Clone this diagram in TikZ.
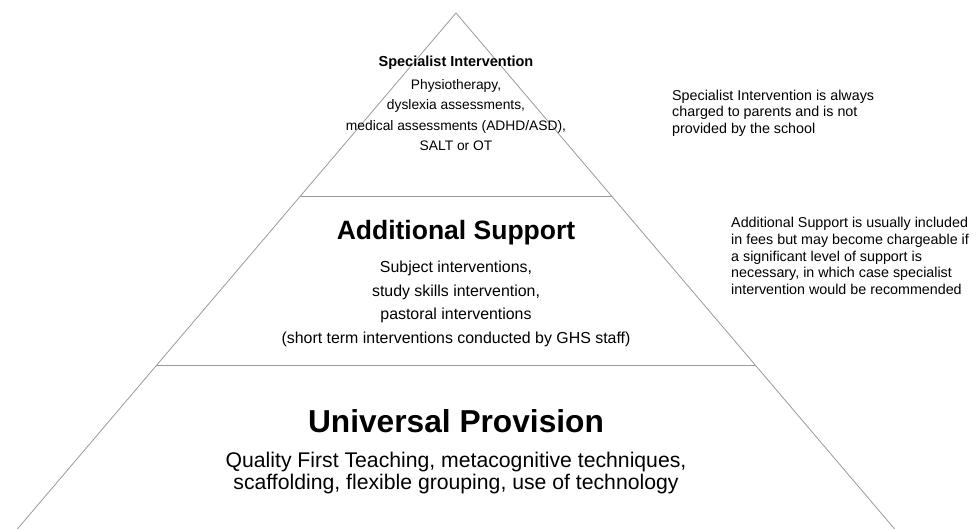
\documentclass[tikz,border=0pt]{standalone}
\usepackage{fontspec}
\setmainfont{Liberation Sans}

\begin{document}
\begin{tikzpicture}[x=1pt, y=-1pt,
  edge/.style={draw=black!40, line width=0.8pt},
  tier/.style={align=center, inner sep=0pt},
  note/.style={align=left, anchor=west, inner sep=0pt, font=\fontsize{14.3}{16.6}\selectfont}]

\useasboundingbox (0,0) rectangle (976,529) ;

\coordinate (apex) at (456,13) ;
\coordinate (baseL) at (17.4,529) ;
\coordinate (baseR) at (894.6,529) ;
\coordinate (topL) at (300.5,196) ;
\coordinate (topR) at (611.5,196) ;
\coordinate (midL) at (156.8,365) ;
\coordinate (midR) at (755.2,365) ;

\draw [edge] (apex) to (baseL) ;
\draw [edge] (apex) to (baseR) ;
\draw [edge] (topL) to (topR) ;
\draw [edge] (midL) to (midR) ;

\node [tier, font=\fontsize{14.5}{17}\selectfont\bfseries] (spectitle) at (456,63) {Specialist Intervention} ;
\node [tier, font=\fontsize{13.8}{20.4}\selectfont] (specbody) at (456,115) {Physiotherapy,\\dyslexia assessments,\\medical assessments (ADHD/ASD),\\SALT or OT} ;

\node [tier, font=\fontsize{26.5}{30}\selectfont\bfseries] (addtitle) at (456,233) {Additional Support} ;
\node [tier, font=\fontsize{15.9}{23.7}\selectfont] (addbody) at (456,304) {Subject interventions,\\study skills intervention,\\pastoral interventions\\(short term interventions conducted by GHS staff)} ;

\node [tier, font=\fontsize{31.7}{36}\selectfont\bfseries] (unititle) at (456,421) {Universal Provision} ;
\node [tier, font=\fontsize{21.2}{21.5}\selectfont] (unibody) at (456,473) {Quality First Teaching, metacognitive techniques,\\scaffolding, flexible grouping, use of technology} ;

\node [note] (specnote) at (672,113) {Specialist Intervention is always\\charged to parents and is not\\provided by the school} ;
\node [note] (addnote) at (731,256) {Additional Support is usually included\\in fees but may become chargeable if\\a significant level of support is\\necessary, in which case specialist\\intervention would be recommended} ;

\end{tikzpicture}
\end{document}
